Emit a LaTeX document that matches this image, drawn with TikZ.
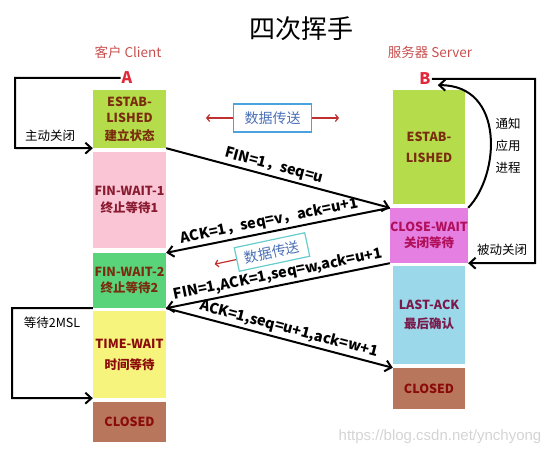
\documentclass[tikz,border=0pt]{standalone}
\usepackage{fontspec}
\setmainfont{Noto Sans CJK SC}
\newfontfamily\wmfont{Liberation Sans}
\usetikzlibrary{arrows.meta}
\definecolor{cEst}{HTML}{B5DC4B}
\definecolor{cFWa}{HTML}{FAC6D6}
\definecolor{cFWb}{HTML}{5AD47A}
\definecolor{cTW}{HTML}{F6F47C}
\definecolor{cCl}{HTML}{B8765C}
\definecolor{cCW}{HTML}{E67FE2}
\definecolor{cLA}{HTML}{9AD8EA}
\definecolor{tEst}{HTML}{7A2C0E}
\definecolor{tFW}{HTML}{8A1A30}
\definecolor{tCW}{HTML}{B0105A}
\definecolor{tLA}{HTML}{7A1A4A}
\definecolor{tCl}{HTML}{8B0A0A}
\definecolor{cHead}{HTML}{C8504F}
\definecolor{cAB}{HTML}{E0283A}
\definecolor{cDB}{HTML}{4AA3DF}
\definecolor{cDBb}{HTML}{66CCCC}
\definecolor{cDT}{HTML}{4A6FB5}
\definecolor{cRA}{HTML}{C03030}
\definecolor{cWM}{HTML}{D4D4D4}
\tikzset{
  state/.style={inner sep=0pt, align=center, font=\bfseries\fontsize{12.5}{16}\selectfont},
  msg/.style={line width=2pt, -{Straight Barb[length=6pt,width=11pt]}},
  lp/.style={line width=2pt, -{Straight Barb[length=6pt,width=11pt]}},
  mlabel/.style={sloped, above, inner sep=2.5pt, font=\bfseries\fontsize{14.5}{14.5}\selectfont},
  cjk/.style={font=\fontsize{12.5}{15}\selectfont, inner sep=0pt},
  dbox/.style={draw=cDB, line width=1.2pt, text=cDT, font=\fontsize{14}{14}\selectfont,
    minimum width=78pt, minimum height=28pt, inner sep=0pt},
  redar/.style={draw=cRA, line width=1.2pt, -{Straight Barb[length=3pt,width=7pt]}},
  head/.style={text=cHead, font=\fontsize{13.5}{14}\selectfont, inner sep=0pt},
  lett/.style={text=cAB, font=\bfseries\fontsize{16}{16}\selectfont, inner sep=1pt}
}
\begin{document}
\begin{tikzpicture}[x=1pt,y=-1pt]
\useasboundingbox (0,0) rectangle (553,454);
% title and headings
\node[font=\fontsize{26}{26}\selectfont, inner sep=0pt] (title) at (301,29) {四次挥手};
\node[head] (hc) at (128,52) {客户 Client};
\node[head] (hs) at (430,52) {服务器 Server};
\node[lett] (A) at (127,78) {A};
\node[lett] (B) at (425,79) {B};
% client states
\node[state, fill=cEst, text=tEst, minimum width=73pt, minimum height=58pt] (estA) at (129.5,119) {ESTAB-\\LISHED\\[2pt]建立状态};
\node[state, fill=cFWa, text=tFW, minimum width=73pt, minimum height=96pt] (fw1) at (129.5,200) {FIN-WAIT-1\\[1pt]终止等待1};
\node[state, fill=cFWb, text=tEst, minimum width=73pt, minimum height=55pt] (fw2) at (129.5,280.5) {FIN-WAIT-2\\终止等待2};
\node[state, fill=cTW, text=tCl, minimum width=73pt, minimum height=87pt] (tw) at (129.5,354.5) {TIME-WAIT\\[5pt]时间等待};
\node[state, fill=cCl, text=tCl, minimum width=73pt, minimum height=40pt] (clA) at (129.5,422) {CLOSED};
% server states
\node[state, fill=cEst, text=tEst, minimum width=72pt, minimum height=114pt] (estB) at (429,147) {ESTAB-\\[5pt]LISHED};
\node[state, fill=cCW, text=tCW, minimum width=72pt, minimum height=55pt] (cw) at (429,235.5) {CLOSE-WAIT\\关闭等待};
\node[state, fill=cLA, text=tLA, minimum width=72pt, minimum height=98pt] (la) at (429,315) {LAST-ACK\\[3pt]最后确认};
\node[state, fill=cCl, text=tCl, minimum width=72pt, minimum height=41pt] (clB) at (429,388.5) {CLOSED};
% messages
\draw[msg] (estA.south east) -- node[mlabel, pos=0.47] {FIN=1，seq=u} (cw.north west);
\draw[msg] (cw.north west) -- node[mlabel, pos=0.53] {ACK=1，seq=v，ack=u+1} (fw2.north east);
\draw[msg] (cw.south west) -- node[mlabel, pos=0.49] {FIN=1,ACK=1,seq=w,ack=u+1} (fw2.south east);
\draw[msg] (fw2.south east) -- node[mlabel, pos=0.53] {ACK=1,seq=u+1,ack=w+1} (clB.north west);
% left loop (active close)
\coordinate (lc) at (15,148);
\draw[lp] (A.west) -| (lc) -- (estA.south west);
\node[cjk] (zd) at (50,136) {主动关闭};
% 2MSL loop
\coordinate (mc) at (12,398);
\draw[lp] (fw2.south west) -| (mc) -- (tw.south west);
\node[cjk] (msl) at (52,323) {等待2MSL};
% right loop (passive close)
\coordinate (rc) at (535,263);
\draw[lp] (B.east) -| (rc) -- (cw.south east);
\node[cjk] (bd) at (502,250) {被动关闭};
% notify application
\draw[lp] (cw.north east) .. controls (500,175) and (505,85) .. ([xshift=6pt,yshift=1pt]B.south east);
\node[cjk, align=center, font=\fontsize{12.5}{22}\selectfont] (tz) at (508,146) {通知\\应用\\进程};
% data transfer 1
\node[dbox] (d1) at (272.5,118) {数据传送};
\path (d1.west) ++(-27,0) coordinate (d1l);
\path (d1.east) ++(27,0) coordinate (d1r);
\draw[redar] (d1.west) -- (d1l);
\draw[redar] (d1.east) -- (d1r);
% data transfer 2
\node[dbox, draw=cDBb, rotate=12, minimum width=72pt, minimum height=24pt] (d2) at (272,252) {数据传送};
\path (d2.west) ++(192:22pt) coordinate (d2l);
\draw[redar] (d2.west) -- (d2l);
% watermark
\node[text=cWM, font=\wmfont\fontsize{15}{15}\selectfont, inner sep=0pt] (wm) at (440,437) {https://blog.csdn.net/ynchyong};
\end{tikzpicture}
\end{document}
